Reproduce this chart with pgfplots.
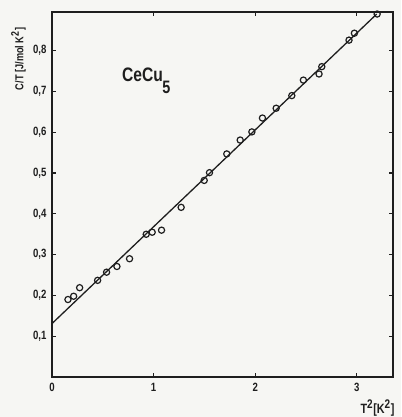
\documentclass[border=0pt]{standalone}
\usepackage{fontspec}
\setmainfont{Liberation Sans}[FakeStretch=0.8]
\usepackage{pgfplots}
\pgfplotsset{compat=1.18}
\definecolor{ink}{RGB}{30,30,30}
\definecolor{paper}{RGB}{246,246,243}
\begin{document}
\begin{tikzpicture}[x=1pt,y=1pt]
\fill[paper] (-52,-40) rectangle (349,377);
\useasboundingbox (-52,-40) rectangle (349,377);
\begin{axis}[
  scale only axis, width=341pt, height=365pt,
  xmin=0, xmax=3.356, ymin=0, ymax=0.895,
  xtick={0,1,2,3}, ytick={0.1,0.2,0.3,0.4,0.5,0.6,0.7,0.8},
  tick align=inside, major tick length=4pt,
  axis line style={ink, line width=1.6pt},
  every tick/.style={ink, line width=1.2pt},
  tick label style={font=\bfseries\fontsize{12}{13}\selectfont, text=ink},
  /pgf/number format/assume math mode=true,
  yticklabel style={/pgf/number format/.cd, fixed, fixed zerofill, precision=1, use comma},
  xticklabel style={/pgf/number format/.cd, fixed, precision=0},
  yticklabel shift=2pt,
  xticklabel shift=3pt,
  clip=false,
]
\addplot[ink, line width=1.3pt, no markers] coordinates {(0,0.131) (3.196,0.890)};
\addplot[only marks, mark=o, mark size=3.1pt, mark options={ink, line width=1.2pt}] coordinates {
(0.157,0.190) (0.213,0.198) (0.272,0.219) (0.449,0.237) (0.537,0.257)
(0.639,0.271) (0.763,0.290) (0.927,0.350) (0.986,0.355) (1.078,0.360)
(1.271,0.416) (1.498,0.482) (1.550,0.501) (1.720,0.547) (1.852,0.581)
(1.967,0.601) (2.071,0.635) (2.206,0.659) (2.360,0.690) (2.474,0.728)
(2.628,0.743) (2.655,0.761) (2.923,0.826) (2.976,0.843) (3.200,0.890)
};
\node[anchor=base west, font=\bfseries\fontsize{19.5}{20}\selectfont, text=ink, inner sep=0pt]
  at (axis cs:0.688,0.724) {CeCu\kern-0.5pt\raisebox{-1.1ex}{\fontsize{18}{18}\selectfont 5}};
\end{axis}
\node[rotate=90, font=\bfseries\fontsize{11.5}{12}\selectfont, text=ink] at (-33.5,318) {C/T [J/mol K\textsuperscript{\fontsize{11}{11}\selectfont 2}]};
\node[font=\bfseries\fontsize{13.5}{14}\selectfont, text=ink, inner sep=0pt] at (325.5,-31) {T\textsuperscript{\fontsize{12.5}{12}\selectfont 2}[K\textsuperscript{\fontsize{12.5}{12}\selectfont 2}]};
\end{tikzpicture}
\end{document}
